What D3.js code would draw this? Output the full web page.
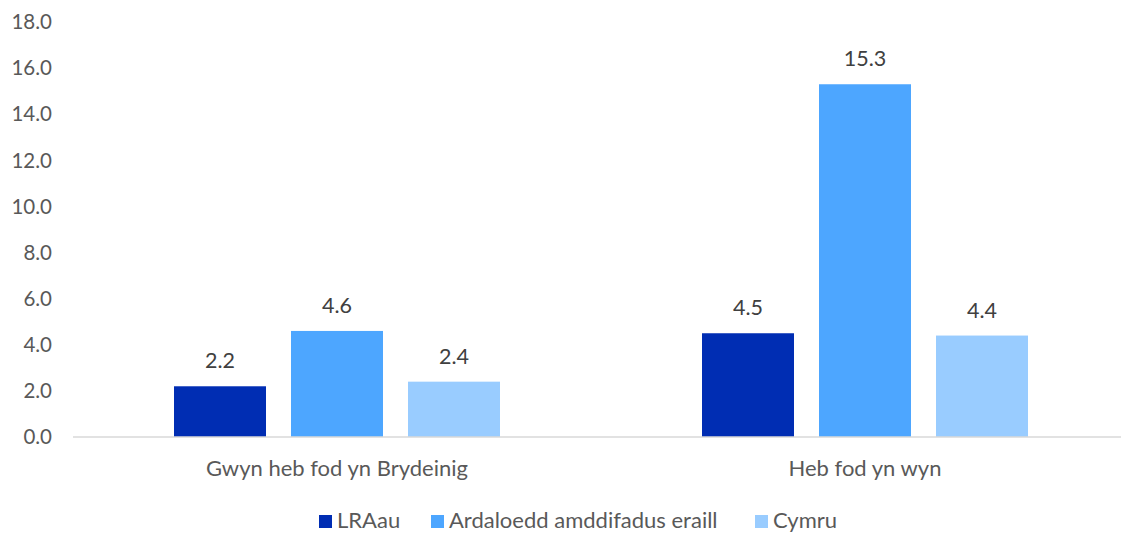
<!DOCTYPE html>
<html>
<head>
<meta charset="utf-8">
<script src="https://cdn.jsdelivr.net/npm/d3@7"></script>
<style>
  body { margin: 0; background: #fff; }
  svg { font-family: Lato, "Open Sans", sans-serif; }
</style>
</head>
<body>
<svg width="1121" height="534"></svg>
<script>
var categories = ["Gwyn heb fod yn Brydeinig", "Heb fod yn wyn"];
var series = ["LRAau", "Ardaloedd amddifadus eraill", "Cymru"];
var values = [
    [2.2, 4.6, 2.4],
    [4.5, 15.3, 4.4]
];
var yTicks = [0, 2, 4, 6, 8, 10, 12, 14, 16, 18];
var colors = ["#002db3", "#4da6ff", "#99ccff"];

var svg = d3.select("svg");
var margin = {"top": 22, "left": 73, "right": -8, "bottom": 97};
var width = +svg.attr("width") - margin.left - margin.right;
var height = +svg.attr("height") - margin.top - margin.bottom;
var g = svg.append("g").attr("transform", "translate(" + margin.left + "," + margin.top + ")");

var x0 = d3.scaleBand().domain(categories).range([0, width]);
var groupW = 326;
var x1 = d3.scaleBand().domain(series)
    .range([(x0.bandwidth() - groupW) / 2, (x0.bandwidth() + groupW) / 2])
    .paddingInner(0.2137);
var y = d3.scaleLinear().domain([0, 18]).range([height, 0]);

// y tick labels
g.selectAll(".ytick")
    .data(yTicks)
    .enter().append("text")
    .attr("class", "ytick")
    .attr("x", -21)
    .attr("y", function (d) { return y(d); })
    .attr("dy", "0.35em")
    .attr("text-anchor", "end")
    .style("font-size", "20.5px")
    .style("fill", "#595959")
    .text(function (d) { return d.toFixed(1); });

var groups = g.selectAll(".grp")
    .data(values)
    .enter().append("g")
    .attr("class", "grp")
    .attr("transform", function (d, i) { return "translate(" + x0(categories[i]) + ",0)"; });

groups.selectAll("rect")
    .data(function (d) { return d; })
    .enter().append("rect")
    .attr("x", function (d, i) { return x1(series[i]); })
    .attr("y", function (d) { return y(d); })
    .attr("width", x1.bandwidth())
    .attr("height", function (d) { return height - y(d); })
    .style("fill", function (d, i) { return colors[i]; });

groups.selectAll(".lbl")
    .data(function (d) { return d; })
    .enter().append("text")
    .attr("class", "lbl")
    .attr("x", function (d, i) { return x1(series[i]) + x1.bandwidth() / 2; })
    .attr("y", function (d) { return y(d) - 18; })
    .attr("text-anchor", "middle")
    .style("font-size", "21.5px")
    .style("fill", "#404040")
    .text(function (d) { return d.toFixed(1); });

// x axis line
g.append("line")
    .attr("x1", 0).attr("x2", width)
    .attr("y1", height).attr("y2", height)
    .style("stroke", "#d9d9d9")
    .style("stroke-width", 1.5);

g.selectAll(".xlab")
    .data(categories)
    .enter().append("text")
    .attr("class", "xlab")
    .attr("x", function (d) { return x0(d) + x0.bandwidth() / 2; })
    .attr("y", height + 39)
    .attr("text-anchor", "middle")
    .style("font-size", "22px")
    .style("fill", "#595959")
    .text(function (d) { return d; });

// legend
var legendX = [319, 431, 755];
var legend = svg.selectAll(".leg")
    .data(series)
    .enter().append("g")
    .attr("class", "leg")
    .attr("transform", function (d, i) { return "translate(" + legendX[i] + ",515)"; });
legend.append("rect")
    .attr("width", 13).attr("height", 13)
    .style("fill", function (d, i) { return colors[i]; });
legend.append("text")
    .attr("x", 18).attr("y", 13)
    .style("font-size", "22px")
    .style("fill", "#595959")
    .text(function (d) { return d; });
</script>
</body>
</html>
